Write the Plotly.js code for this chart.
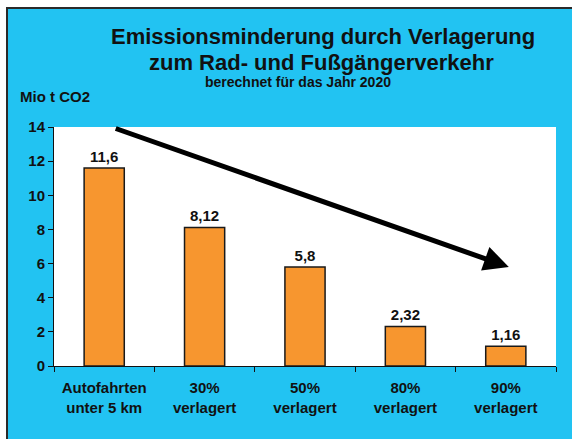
<!DOCTYPE html>
<html>
<head>
<meta charset="utf-8">
<script src="https://cdn.plot.ly/plotly-3.0.1.min.js"></script>
<style>
html,body{margin:0;padding:0;background:#fff;width:572px;height:439px;overflow:hidden;}
#wrap{position:absolute;left:6px;top:7px;border-left:2px solid #2a2a2a;border-top:2px solid #2a2a2a;width:564px;height:430px;background:#22C3F2;}
#chart{width:564px;height:430px;}
</style>
</head>
<body>
<div id="wrap"><div id="chart"></div></div>
<script>
const categories = ["Autofahrten<br>unter 5 km", "30%<br>verlagert", "50%<br>verlagert", "80%<br>verlagert", "90%<br>verlagert"];
const values = [11.6, 8.12, 5.8, 2.32, 1.16];
const valueLabels = ["11,6", "8,12", "5,8", "2,32", "1,16"];
const yTicks = [0, 2, 4, 6, 8, 10, 12, 14];

const FONT = "Arial, 'Liberation Sans', sans-serif";

const trace = {
  type: "bar",
  x: categories,
  y: values,
  text: valueLabels.map(v => "<b>" + v + "</b>"),
  textposition: "outside",
  cliponaxis: false,
  textfont: {family: FONT, size: 15, color: "#111"},
  marker: {color: "#F7962F", line: {color: "#1a1a1a", width: 1.5}},
  hoverinfo: "skip"
};

const layout = {
  width: 564, height: 430,
  margin: {l: 46, r: 16, t: 118, b: 73},
  paper_bgcolor: "#22C3F2",
  plot_bgcolor: "#ffffff",
  bargap: 0.6,
  showlegend: false,
  font: {family: FONT, color: "#111", size: 15},
  xaxis: {
    type: "category",
    tickvals: categories,
    ticktext: categories.map(c => "<b>" + c + "</b>"),
    showline: true, linecolor: "#111", linewidth: 1,
    ticks: "outside", tickson: "boundaries", ticklen: 5, tickcolor: "#111",
    ticklabelstandoff: 8,
    showgrid: false, zeroline: false,
    tickfont: {family: FONT, size: 15, color: "#111"},
    fixedrange: true
  },
  yaxis: {
    range: [0, 14],
    tickvals: yTicks,
    ticktext: yTicks.map(t => "<b>" + t + "</b>"),
    ticks: "outside", ticklen: 5, tickcolor: "#111",
    showline: true, linecolor: "#111", linewidth: 1,
    showgrid: false, zeroline: false,
    tickfont: {family: FONT, size: 15, color: "#111"},
    fixedrange: true
  },
  annotations: [
    {xref: "paper", yref: "paper", x: 0.535, y: 1.377, xanchor: "center", yanchor: "middle",
     text: "<b>Emissionsminderung durch Verlagerung</b>", showarrow: false,
     font: {family: FONT, size: 22, color: "#111"}},
    {xref: "paper", yref: "paper", x: 0.533, y: 1.268, xanchor: "center", yanchor: "middle",
     text: "<b>zum Rad- und Fußgängerverkehr</b>", showarrow: false,
     font: {family: FONT, size: 22, color: "#111"}},
    {xref: "paper", yref: "paper", x: 0.486, y: 1.188, xanchor: "center", yanchor: "middle",
     text: "<b>berechnet für das Jahr 2020</b>", showarrow: false,
     font: {family: FONT, size: 14, color: "#111"}},
    {xref: "paper", yref: "paper", x: -0.072, y: 1.126, xanchor: "left", yanchor: "middle",
     text: "<b>Mio t CO2</b>", showarrow: false,
     font: {family: FONT, size: 15, color: "#111"}},
    {xref: "paper", yref: "paper", x: 0.906, y: 0.414, ax: 0.12, ay: 0.996,
     axref: "paper", ayref: "paper", text: "", showarrow: true,
     arrowhead: 2, arrowsize: 1, arrowwidth: 5, arrowcolor: "#000"}
  ]
};

Plotly.newPlot("chart", [trace], layout, {displayModeBar: false, staticPlot: true});
</script>
</body>
</html>
